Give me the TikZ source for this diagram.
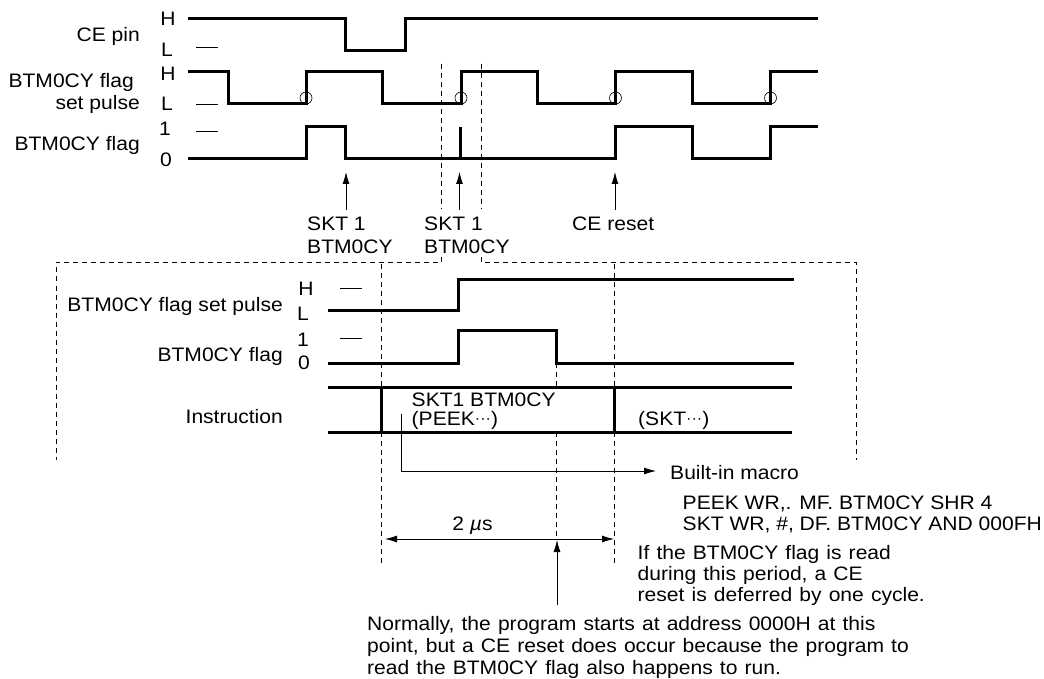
\documentclass[tikz,border=0pt]{standalone}
\usepackage{fontspec}
\setmainfont[FakeStretch=1.08]{Liberation Sans}
\usetikzlibrary{arrows.meta}
\newcommand\raiseddots{\raisebox{1.6pt}{\fontsize{15}{15}\selectfont ···}}
\newcommand\widerwords{\spaceskip=7.1pt\relax}
\tikzset{
  x=1pt,y=-1pt,
  thin line/.style={line width=0.7pt},
  dash line/.style={line width=0.6pt,dash pattern=on 5pt off 4pt},
  sig/.style={line width=3pt,line join=miter},
  tip/.style={-{Latex[length=12pt,width=7pt]},line width=0.8pt},
  both/.style={{Latex[length=12pt,width=7pt]}-{Latex[length=12pt,width=7pt]},line width=0.8pt},
  lab/.style={inner sep=0pt,text height=14pt,text depth=0pt,font=\fontsize{19.5}{22}\selectfont},
  r/.style={lab,anchor=east},
  l/.style={lab,anchor=west},
  c/.style={lab,anchor=center},
  para/.style={lab,anchor=west,font=\fontsize{19.5}{22}\selectfont\widerwords},
  mark circle/.style={draw,circle,minimum size=12pt,inner sep=0pt,line width=0.6pt}
}
\begin{document}
\begin{tikzpicture}
\useasboundingbox (0,0) rectangle (1044,679);
% dashed frame
\draw[dash line] (441.5,64) -- (441.5,209);
\draw[dash line] (481,64) -- (481,209);
\draw[dash line] (441.5,257) -- (441.5,262) -- (56,262) -- (56,460);
\draw[dash line] (481,257) -- (481,262) -- (856,262) -- (856,460);
\draw[dash line] (381,264) -- (381,387);
\draw[dash line] (381,432) -- (381,566);
\draw[dash line] (614,264) -- (614,387);
\draw[dash line] (614,432) -- (614,566);
\draw[dash line] (556.5,363) -- (556.5,387);
\draw[dash line] (556.5,432) -- (556.5,539);
% top waves
\draw[sig] (188,19) -- (345.5,19) -- (345.5,51) -- (405,51) -- (405,19) -- (818,19);
\draw[sig] (188,72) -- (228,72) -- (228,104) -- (306,104) -- (306,72) -- (382,72) -- (382,104) -- (461,104) -- (461,72) -- (537,72) -- (537,104) -- (615.5,104) -- (615.5,72) -- (692,72) -- (692,104) -- (770.5,104) -- (770.5,72) -- (818,72);
\draw[sig] (188,159) -- (306,159) -- (306,127) -- (345.5,127) -- (345.5,159) -- (615.5,159) -- (615.5,127) -- (692,127) -- (692,159) -- (770.5,159) -- (770.5,127) -- (818,127);
\draw[line width=2.2pt] (460.5,127) -- (460.5,159);
\node[mark circle] (c1) at (306,98) {};
\node[mark circle] (c2) at (461,98) {};
\node[mark circle] (c3) at (615.5,98) {};
\node[mark circle] (c4) at (770.5,98) {};
% level ticks
\draw[thin line] (196,47) -- (218,47);
\draw[thin line] (196,104) -- (218,104);
\draw[thin line] (196,131) -- (218,131);
\draw[thin line] (340,288) -- (362,288);
\draw[thin line] (340,338) -- (362,338);
% top labels
\node[c] (h1) at (168,19) {H};
\node[c] (l1) at (167,50) {L};
\node[c] (h2) at (168,74) {H};
\node[c] (l2) at (167,104) {L};
\node[c] (o1) at (165,129) {1};
\node[c] (z1) at (166,160) {0};
\node[r] (t1) at (140,35) {CE pin};
\node[r] (t2) at (134,81) {BTM0CY flag};
\node[r] (t3) at (140,103) {set pulse};
\node[r] (t4) at (140,144) {BTM0CY flag};
% annotation arrows
\coordinate (a1) at (346,210); \coordinate (a1t) at (346,172);
\coordinate (a2) at (459.5,210); \coordinate (a2t) at (459.5,172);
\coordinate (a3) at (615,210); \coordinate (a3t) at (615,172);
\draw[tip] (a1) -- (a1t);
\draw[tip] (a2) -- (a2t);
\draw[tip] (a3) -- (a3t);
\node[l] (s1) at (307,223) {SKT 1};
\node[l] (b1) at (307,246) {BTM0CY};
\node[l] (s2) at (424,223) {SKT 1};
\node[l] (b2) at (424,246) {BTM0CY};
\node[l] (ce) at (572,224) {CE reset};
% lower waves
\draw[sig] (328,310.5) -- (458,310.5) -- (458,279) -- (794,279);
\draw[sig] (328,363) -- (458,363) -- (458,330.5) -- (556.5,330.5) -- (556.5,363) -- (794,363);
\draw[sig] (328,387) -- (792,387);
\draw[sig] (328,432) -- (792,432);
\draw[sig] (381,387) -- (381,432);
\draw[sig] (614,387) -- (614,432);
% lower labels
\node[c] (h3) at (306,288) {H};
\node[c] (l3) at (303,313) {L};
\node[c] (o2) at (303,339) {1};
\node[c] (z2) at (304,362) {0};
\node[r] (t5) at (283,304) {BTM0CY flag set pulse};
\node[r] (t6) at (283,354) {BTM0CY flag};
\node[r] (t7) at (283,416) {Instruction};
\node[l] (i1) at (411.5,399) {SKT1 BTM0CY};
\node[l] (i2) at (411.5,418) {(PEEK\raiseddots)};
\node[l] (i3) at (638,418) {(SKT\raiseddots)};
% macro
\node[l] (m) at (670,472) {Built-in macro};
\coordinate (e0) at (401,414);
\coordinate (e1) at (656,471);
\draw[tip] (e0) |- (e1);
\node[l] (p1) at (682.5,502) {PEEK WR,. MF. BTM0CY SHR 4};
\node[l] (p2) at (682.5,523) {SKT WR, \#, DF. BTM0CY AND 000FH};
% timing
\coordinate (d1) at (385,539); \coordinate (d2) at (614,539);
\draw[both] (d1) -- (d2);
\node[c] (mu) at (472.5,523) {2 \textit{µ}s};
\coordinate (n0) at (557,605); \coordinate (n1) at (557,540);
\draw[tip] (n0) -- (n1);
\node[para] (q1) at (637.5,552) {If the BTM0CY flag is read};
\node[para] (q2) at (637.5,573) {during this period, a CE};
\node[para] (q3) at (637.5,594) {reset is deferred by one cycle.};
\node[para] (w1) at (367,623) {Normally, the program starts at address 0000H at this};
\node[para] (w2) at (367,645) {point, but a CE reset does occur because the program to};
\node[para] (w3) at (367,667) {read the BTM0CY flag also happens to run.};
\end{tikzpicture}
\end{document}
